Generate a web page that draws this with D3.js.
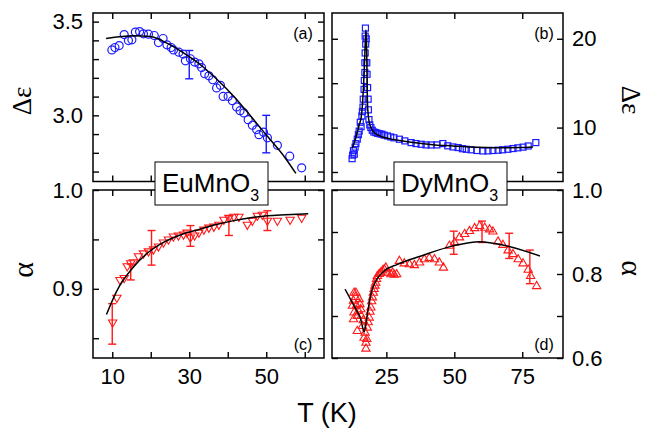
<!DOCTYPE html>
<html>
<head>
<meta charset="utf-8">
<script src="https://cdn.jsdelivr.net/npm/d3@7"></script>
<style>
  body { margin: 0; background: #fff; }
  svg { display: block; font-family: "Liberation Sans", Arial, sans-serif; }
</style>
</head>
<body>
<div id="chart"></div>
<script>
// (a) EuMnO3, delta epsilon
const euT = [9.9,10.7,11.8,13.1,14.2,15.1,16.0,17.1,18.1,19.4,20.9,22.0,23.2,24.2,25.3,25.9,27.3,28.4,29.0,30.3,31.4,32.5,33.2,34.0,35.1,36.1,37.1,38.1,38.8,40.1,41.2,42.3,43.2,44.2,45.3,46.4,47.5,48.1,49.3,50.3,52.9,56.1,59.2];
const euDe = [3.349,3.362,3.372,3.431,3.399,3.403,3.444,3.447,3.435,3.433,3.426,3.388,3.410,3.376,3.362,3.349,3.337,3.327,3.291,3.302,3.284,3.275,3.255,3.222,3.211,3.190,3.146,3.160,3.101,3.101,3.078,3.045,3.025,3.013,2.977,2.947,2.924,2.897,2.910,2.880,2.840,2.782,2.720];
const euFitT = [8.4,15.5,19.9,24.2,28.6,32.9,37.3,41.6,46.0,50.3,54.6,57.7];
const euFitDe = [3.410,3.424,3.420,3.385,3.332,3.270,3.190,3.101,2.995,2.888,2.782,2.690];
const euErrT = [30, 50];
const euErrDe = [[3.195,3.346],[2.80,3.00]];

// (b) DyMnO3, delta epsilon
const dyT = [12.4,12.6,12.9,13.2,13.5,13.8,14.3,14.7,15.0,15.4,15.7,16.0,16.2,16.4,16.5,16.8,16.9,17.1,17.1,17.2,17.4,17.2,17.3,17.6,17.8,17.9,18.1,18.3,18.4,18.6,18.9,19.3,19.8,20.4,21.1,21.8,22.6,23.4,24.2,25.4,26.6,27.8,29.8,31.8,34.1,35.9,37.8,39.6,41.5,43.6,45.8,47.6,49.5,51.4,53.0,54.4,56.2,58.3,60.5,62.4,64.2,66.1,67.8,69.7,71.6,73.4,75.3,77.2,80.0];
const dyDe = [6.5,6.9,7.4,7.0,7.8,8.2,8.7,9.2,9.6,10.6,10.1,11.3,11.8,12.3,13.2,14.3,15.3,16.2,17.3,18.4,19.4,20.3,21.2,20.0,17.3,16.0,14.5,13.2,12.0,10.9,10.3,10.0,9.7,9.5,9.44,9.35,9.3,9.25,9.15,9.06,8.95,8.85,8.69,8.5,8.31,8.2,8.12,8.05,8.04,8.05,8.2,7.95,7.82,7.75,7.62,7.56,7.5,7.42,7.37,7.38,7.42,7.45,7.5,7.56,7.64,7.72,7.8,7.93,8.31];
const dyFitT = [12.5,13.5,14.3,15.0,15.8,16.3,16.6,16.9,17.1,17.3,17.5,17.7,17.8,17.9,18.05,18.3,18.7,19.5,20.5,22.0,24.2,27.0,31.0,37.2,43.0,49.5,55.0,61.8,68.0,74.1,79.0];
const dyFitDe = [7.7,8.6,9.44,10.3,11.3,13.0,14.7,16.8,18.4,20.0,21.0,19.5,18.0,15.5,12.8,11.5,10.6,9.9,9.44,9.15,8.88,8.7,8.5,8.24,8.05,7.93,7.82,7.75,7.73,7.75,7.82];

// (c) EuMnO3, alpha
const euTc = [10.1,11.2,12.0,13.1,13.9,14.8,15.5,16.8,18.1,19.4,20.7,22.0,23.3,24.6,25.9,27.2,28.5,29.4,30.3,31.4,32.5,33.8,35.1,36.4,37.7,39.0,40.3,41.6,42.9,45.1,46.4,47.7,49.0,50.3,52.9,56.2,59.2];
const euAlpha = [0.866,0.891,0.909,0.911,0.923,0.926,0.927,0.933,0.936,0.938,0.940,0.943,0.947,0.950,0.953,0.954,0.955,0.957,0.952,0.954,0.957,0.960,0.962,0.963,0.965,0.970,0.972,0.973,0.973,0.965,0.969,0.974,0.975,0.969,0.969,0.970,0.972];
const euFitTc = [8.5,11.2,15.5,19.4,23.3,28.0,32.5,37.0,41.6,46.0,50.3,55.0,60.9];
const euFitAlpha = [0.874,0.898,0.922,0.937,0.947,0.955,0.960,0.965,0.969,0.972,0.974,0.975,0.976];
const euErrTc = [10, 14.8, 20.2, 30.3, 40.3, 50.3];
const euErrAlpha = [[0.844,0.885],[0.909,0.925],[0.924,0.959],[0.943,0.964],[0.954,0.974],[0.959,0.979]];

// (d) DyMnO3, alpha
const dyTd = [12.5,12.9,13.1,13.1,12.9,13.6,13.8,14.0,14.3,14.3,14.7,15.0,15.3,15.6,15.8,16.2,16.5,16.8,17.2,17.5,17.5,17.8,18.0,18.3,18.7,19.0,19.3,19.6,19.9,20.2,20.5,20.8,21.1,21.4,21.7,22.4,23.0,23.6,24.2,24.8,25.4,26.7,27.3,27.9,28.8,29.8,31.6,33.5,35.3,37.2,39.0,40.8,42.7,44.5,46.0,48.2,50.1,51.9,53.8,55.6,57.5,59.3,61.2,63.0,64.2,66.1,67.9,69.8,71.6,73.5,75.3,77.2,78.1,80.3];
const dyAlpha = [0.724,0.736,0.755,0.708,0.692,0.745,0.755,0.725,0.700,0.664,0.712,0.740,0.728,0.716,0.700,0.676,0.690,0.648,0.660,0.636,0.622,0.645,0.672,0.685,0.696,0.710,0.720,0.735,0.744,0.755,0.764,0.772,0.779,0.788,0.795,0.800,0.803,0.808,0.811,0.815,0.803,0.799,0.803,0.798,0.799,0.831,0.825,0.823,0.821,0.827,0.835,0.838,0.835,0.827,0.815,0.867,0.875,0.887,0.895,0.902,0.909,0.914,0.910,0.906,0.901,0.877,0.869,0.856,0.847,0.835,0.825,0.810,0.795,0.771];
const dyFitTd = [9.8,13.1,15.6,16.8,18.0,19.3,21.1,24.2,29.1,37.8,49.5,59.3,69.2,81.5];
const dyFitAlpha = [0.764,0.724,0.692,0.662,0.704,0.752,0.783,0.807,0.823,0.843,0.867,0.877,0.867,0.843];
const dyErrTd = [49.8, 60.2, 70.2, 77.8];
const dyErrAlpha = [[0.847,0.902],[0.875,0.926],[0.837,0.897],[0.777,0.857]];

// ticks
const euTicksX = [10,20,30,40,50,60];
const euLabelsX = [10,30,50];
const dyTicksX = [25,50,75];
const ticksA = [2.7,2.8,2.9,3.0,3.1,3.2,3.3,3.4,3.5];
const labelsA = [3.0,3.5];
const ticksB = [5,10,15,20];
const labelsB = [10,20];
const ticksC = [0.85,0.9,0.95,1.0];
const labelsC = [0.9,1.0];
const ticksD = [0.6,0.7,0.8,0.9,1.0];
const labelsD = [0.6,0.8,1.0];

const width = 650, height = 431;
const BLUE = "#1a1aff", RED = "#ff1a1a";

const svg = d3.select("#chart").append("svg")
    .attr("width", width)
    .attr("height", height);

const colL = [93, 324], colR = [332, 563];
const rowT = [13, 181.5], rowB = [190, 358];

const xEu = d3.scaleLinear().domain([5, 65]).range(colL);
const xDy = d3.scaleLinear().domain([5, 90]).range(colR);
const yA = d3.scaleLinear().domain([2.647, 3.546]).range([rowT[1], rowT[0]]);
const yB = d3.scaleLinear().domain([3.93, 22.9]).range([rowT[1], rowT[0]]);
const yC = d3.scaleLinear().domain([0.83, 1.0]).range([rowB[1], rowB[0]]);
const yD = d3.scaleLinear().domain([0.6, 1.0]).range([rowB[1], rowB[0]]);

const fmt = d3.format(".1f");

function styleAxis(g) {
    g.select(".domain").remove();
    g.attr("font-family", null).attr("font-size", 22);
    g.selectAll(".tick line").attr("stroke", "#000").attr("stroke-width", 1.4);
    g.selectAll(".tick text").attr("fill", "#000");
}

function frame(x, y, opt) {
    const [x0, x1] = x.range();
    const [y1, y0] = y.range();
    const g = svg.append("g");
    const lab = (arr, f) => d => arr.some(v => Math.abs(v - d) < 1e-6) ? f(d) : "";

    g.append("g").attr("transform", `translate(0,${y1})`)
        .call(d3.axisBottom(x).tickValues(opt.xt).tickSize(-6).tickPadding(10)
            .tickFormat(opt.xl ? lab(opt.xl, d3.format("d")) : ""))
        .call(styleAxis);
    g.append("g").attr("transform", `translate(0,${y0})`)
        .call(d3.axisTop(x).tickValues(opt.xt).tickSize(-6).tickFormat(""))
        .call(styleAxis);
    g.append("g").attr("transform", `translate(${x0},0)`)
        .call(d3.axisLeft(y).tickValues(opt.yt).tickSize(-6).tickPadding(10)
            .tickFormat(opt.side === "left" ? lab(opt.yl, opt.yf) : ""))
        .call(styleAxis);
    g.append("g").attr("transform", `translate(${x1},0)`)
        .call(d3.axisRight(y).tickValues(opt.yt).tickSize(-6).tickPadding(9)
            .tickFormat(opt.side === "right" ? lab(opt.yl, opt.yf) : ""))
        .call(styleAxis);

    g.append("rect")
        .attr("x", x0).attr("y", y0)
        .attr("width", x1 - x0).attr("height", y1 - y0)
        .attr("fill", "none").attr("stroke", "#000").attr("stroke-width", 1.5);
}

function fitLine(x, y, ts, vs) {
    const pts = ts.map((t, i) => [x(t), y(vs[i])]);
    svg.append("path")
        .attr("d", d3.line().curve(d3.curveMonotoneX)(pts))
        .attr("fill", "none").attr("stroke", "#000").attr("stroke-width", 1.5);
}

function errBars(x, y, ts, ranges, color) {
    const g = svg.append("g").attr("stroke", color).attr("stroke-width", 1.4);
    ts.forEach((t, i) => {
        const px = x(t), lo = y(ranges[i][0]), hi = y(ranges[i][1]);
        g.append("line").attr("x1", px).attr("x2", px).attr("y1", lo).attr("y2", hi);
        g.append("line").attr("x1", px - 4).attr("x2", px + 4).attr("y1", lo).attr("y2", lo);
        g.append("line").attr("x1", px - 4).attr("x2", px + 4).attr("y1", hi).attr("y2", hi);
    });
}

function markers(x, y, ts, vs, type, color) {
    const g = svg.append("g");
    const data = ts.map((t, i) => [t, vs[i]]);
    if (type === "circle") {
        g.selectAll("circle").data(data).join("circle")
            .attr("cx", d => x(d[0])).attr("cy", d => y(d[1])).attr("r", 4)
            .attr("fill", "none").attr("stroke", color).attr("stroke-width", 1.2);
    } else if (type === "square") {
        g.selectAll("rect").data(data).join("rect")
            .attr("x", d => x(d[0]) - 3).attr("y", d => y(d[1]) - 3)
            .attr("width", 6).attr("height", 6)
            .attr("fill", "none").attr("stroke", color).attr("stroke-width", 1.2);
    } else {
        const sym = d3.symbol(d3.symbolTriangle, 30);
        g.selectAll("path").data(data).join("path")
            .attr("d", sym)
            .attr("transform", d => `translate(${x(d[0])},${y(d[1])})` + (type === "down" ? " rotate(180)" : ""))
            .attr("fill", "none").attr("stroke", color).attr("stroke-width", 1.1);
    }
}

// panels
frame(xEu, yA, {xt: euTicksX, yt: ticksA, yl: labelsA, yf: fmt, side: "left"});
frame(xDy, yB, {xt: dyTicksX, yt: ticksB, yl: labelsB, yf: d3.format("d"), side: "right"});
frame(xEu, yC, {xt: euTicksX, xl: euLabelsX, yt: ticksC, yl: labelsC, yf: fmt, side: "left"});
frame(xDy, yD, {xt: dyTicksX, xl: [25,50,75], yt: ticksD, yl: labelsD, yf: fmt, side: "right"});

markers(xEu, yA, euT, euDe, "circle", BLUE);
errBars(xEu, yA, euErrT, euErrDe, BLUE);
fitLine(xEu, yA, euFitT, euFitDe);

markers(xDy, yB, dyT, dyDe, "square", BLUE);
fitLine(xDy, yB, dyFitT, dyFitDe);

markers(xEu, yC, euTc, euAlpha, "down", RED);
errBars(xEu, yC, euErrTc, euErrAlpha, RED);
fitLine(xEu, yC, euFitTc, euFitAlpha);

markers(xDy, yD, dyTd, dyAlpha, "up", RED);
errBars(xDy, yD, dyErrTd, dyErrAlpha, RED);
fitLine(xDy, yD, dyFitTd, dyFitAlpha);

// panel letters
[["(a)", 303, 33], ["(b)", 544, 33], ["(c)", 303, 344], ["(d)", 544, 344]].forEach(([t, x, y]) => {
    svg.append("text").attr("x", x).attr("y", y).attr("text-anchor", "middle")
        .attr("dy", "0.35em").attr("font-size", 16).text(t);
});

// compound boxes
function compound(x0, name) {
    svg.append("rect").attr("x", x0).attr("y", 162).attr("width", 113).attr("height", 43)
        .attr("fill", "#fff").attr("stroke", "#000").attr("stroke-width", 1);
    const t = svg.append("text").attr("x", x0 + 7).attr("y", 192).attr("font-size", 26);
    t.append("tspan").text(name);
    t.append("tspan").attr("font-size", 16).attr("dy", 9).text("3");
}
compound(155, "EuMnO");
compound(394, "DyMnO");

// axis titles
const greek = "'Liberation Serif', 'Times New Roman', serif";
svg.append("text").attr("transform", "translate(31,101) rotate(-90)")
    .attr("text-anchor", "middle").attr("font-family", greek).attr("font-size", 27).text("Δε");
svg.append("text").attr("transform", "translate(622,100) rotate(90)")
    .attr("text-anchor", "middle").attr("font-family", greek).attr("font-size", 27).text("Δε");
svg.append("text").attr("transform", "translate(33,270) rotate(-90)")
    .attr("text-anchor", "middle").attr("font-family", greek).attr("font-size", 30).text("α");
svg.append("text").attr("transform", "translate(622,268) rotate(90)")
    .attr("text-anchor", "middle").attr("font-family", greek).attr("font-size", 30).text("α");
svg.append("text").attr("x", 327).attr("y", 422).attr("text-anchor", "middle")
    .attr("font-size", 27).text("T (K)");
</script>
</body>
</html>
